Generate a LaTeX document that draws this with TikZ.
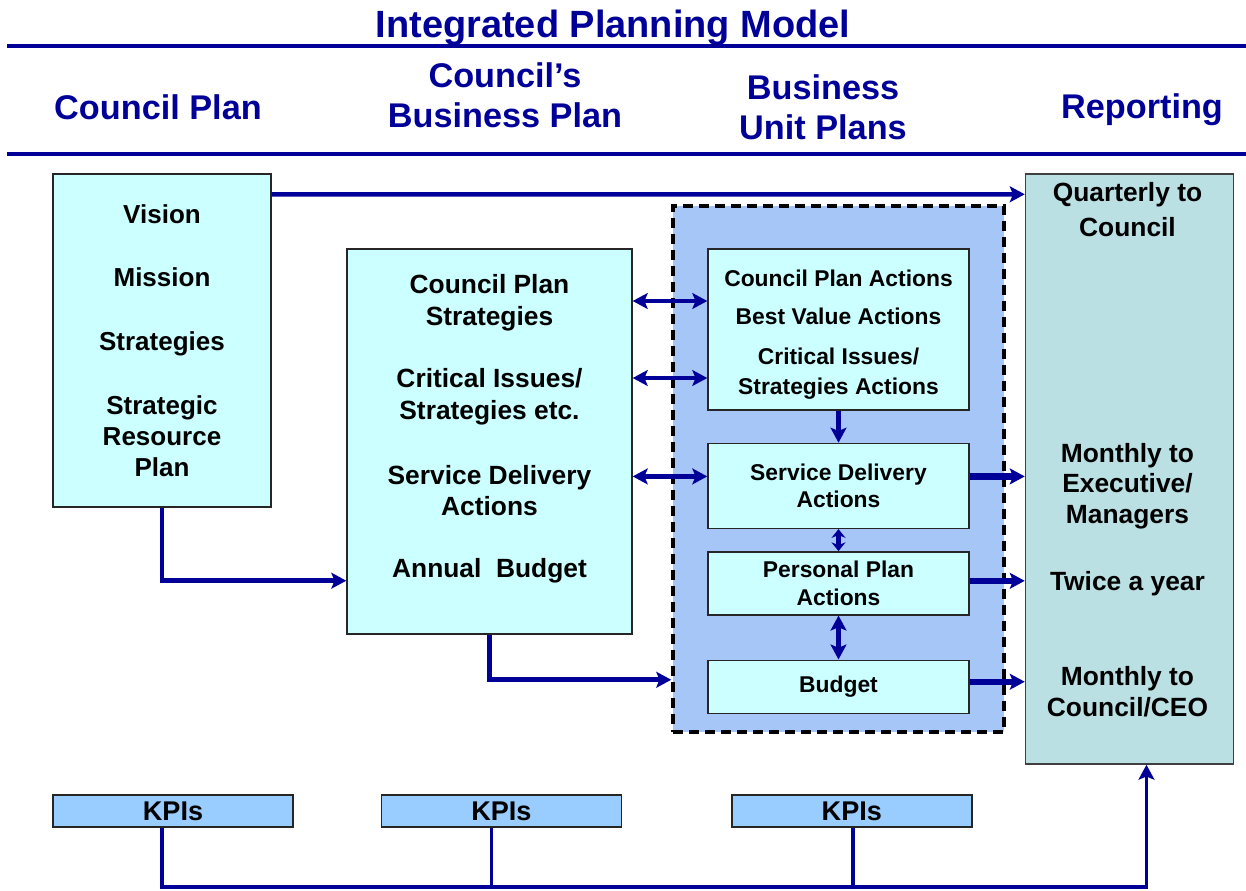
\documentclass[tikz,border=0pt]{standalone}
\usepackage{fontspec}
\setmainfont{Liberation Sans}
\usepackage{xcolor}
\usepackage{tikz}
\definecolor{navyblue}{RGB}{0,0,153}
\definecolor{paleaqua}{RGB}{204,255,255}
\definecolor{unitblue}{RGB}{166,198,248}
\definecolor{reportteal}{RGB}{187,224,227}
\definecolor{kpiblue}{RGB}{153,204,255}
\usetikzlibrary{arrows.meta,positioning,calc}

\begin{document}
\begin{tikzpicture}[
    titletext/.style={font=\fontsize{21.6}{24}\selectfont\bfseries, text=navyblue, inner sep=0pt},
    heading/.style={font=\fontsize{19.5}{22.7}\selectfont\bfseries, text=navyblue, align=center, inner sep=0pt},
    planbox/.style={rectangle, draw=black!85, line width=0.8pt, fill=paleaqua, align=center, inner sep=0pt, font=\fontsize{14.8}{17.6}\selectfont\bfseries},
    boxtext/.style={align=center, inner sep=0pt, font=\fontsize{15}{18.1}\selectfont\bfseries},
    unitframe/.style={rectangle, draw=black, line width=2pt, dash pattern=on 0.2cm off 0.12cm, fill=unitblue},
    unitbox/.style={rectangle, draw=black!85, line width=0.8pt, fill=paleaqua, align=center, minimum width=5.22cm, inner sep=0pt, font=\fontsize{13}{15.4}\selectfont\bfseries},
    reportbox/.style={rectangle, draw=black!75, line width=0.8pt, fill=reportteal},
    reptext/.style={align=center, inner sep=0pt, font=\fontsize{15}{17.3}\selectfont\bfseries},
    kpibox/.style={rectangle, draw=black!85, line width=0.8pt, fill=kpiblue, minimum width=4.8cm, minimum height=0.64cm, inner sep=0pt, font=\fontsize{15.4}{18}\selectfont\bfseries},
    hrule/.style={navyblue, line width=2.6pt},
    arrow/.style={-{Stealth[length=8.5pt,width=9pt,inset=1.8pt]}, navyblue, line width=2.6pt},
    dblarrow/.style={{Stealth[length=8.5pt,width=9pt,inset=1.8pt]}-{Stealth[length=8.5pt,width=9pt,inset=1.8pt]}, navyblue, line width=2.6pt},
    fatarrow/.style={arrow, line width=3.6pt},
    busline/.style={navyblue, line width=2pt}
]
\useasboundingbox (0,0) rectangle (24.92,-17.8);

% title and column headings
\node[titletext] (title) at (12.26,-0.56) {Integrated Planning Model};
\draw[hrule] (0.14,-0.92) -- (24.92,-0.92);
\draw[hrule] (0.14,-3.08) -- (24.92,-3.08);

\node[heading] (hcouncil) at (3.16,-2.14) {Council Plan};
\node[heading] (hbusiness) at (10.1,-1.9) {Council’s\\Business Plan};
\node[heading] (hunits) at (16.46,-2.14) {Business\\Unit Plans};
\node[heading] (hreport) at (22.84,-2.2) {Reporting};

% council plan and business plan
\node[planbox, minimum width=4.36cm, minimum height=6.66cm] (cplan) at (3.24,-6.81)
    {Vision\\[0.64cm]Mission\\[0.66cm]Strategies\\[0.66cm]Strategic\\Resource\\Plan};
\node[planbox, minimum width=5.7cm, minimum height=7.7cm] (bizplan) at (9.79,-8.83) {};
\node[boxtext] (biztext) at (9.79,-8.58)
    {Council Plan\\Strategies\\[0.6cm]Critical Issues/\\Strategies etc.\\[0.66cm]Service Delivery\\Actions\\[0.6cm]Annual~ Budget};

% business unit plans
\node[unitframe, minimum width=6.62cm, minimum height=10.52cm] (unit) at (16.77,-9.38) {};
\node[unitbox, minimum height=3.22cm] (cpa) at (16.77,-6.59) {};
\node[boxtext, font=\fontsize{13}{17}\selectfont\bfseries, yshift=-0.1cm] (cpatext) at (cpa)
    {Council Plan Actions\\[0.18cm]Best Value Actions\\[0.2cm]Critical Issues/\\Strategies Actions};
\node[unitbox, minimum height=1.7cm, below=0.64cm of cpa] (sda) {Service Delivery\\Actions};
\node[unitbox, minimum height=1.26cm, below=0.44cm of sda] (ppa) {Personal Plan\\Actions};
\node[unitbox, minimum height=1.06cm, below=0.88cm of ppa] (bud) {Budget};

% reporting
\node[reportbox, minimum width=4.16cm, minimum height=11.8cm, right=0.38cm of unit] (report) {};
\node[reptext, below=0.18cm of report.north, xshift=-0.04cm] (quarterly) {Quarterly to\\[0.08cm]Council};
\node[reptext, xshift=-0.04cm] (monthlyexec) at (report |- sda) {Monthly to\\Executive/\\Managers};
\node[reptext, xshift=-0.04cm] (twice) at (report |- ppa) {Twice a year};
\node[reptext, xshift=-0.04cm, yshift=-0.1cm] (monthlyceo) at (report |- bud) {Monthly to\\Council/CEO};

% KPIs
\node[kpibox] (kpi1) at (3.46,-16.22) {KPIs};
\node[kpibox, right=1.74cm of kpi1] (kpi2) {KPIs};
\node[kpibox, right=2.18cm of kpi2] (kpi3) {KPIs};

% connectors
\draw[arrow] ([yshift=-0.42cm]cplan.north east) -- ([yshift=-0.42cm]report.north west);
\draw[arrow] (cplan.south) |- ([yshift=1.08cm]bizplan.south west);
\draw[arrow] (bizplan.south) |- ([yshift=1.08cm]unit.south west);

\coordinate (link1) at ([yshift=0.57cm]cpa.west);
\coordinate (link2) at ([yshift=-0.97cm]cpa.west);
\coordinate (link3) at ([yshift=0.19cm]sda.west);
\foreach \c in {link1,link2,link3}
    \draw[dblarrow] (bizplan.east |- \c) -- (\c);

\draw[arrow] (cpa.south) -- (sda.north);
\draw[dblarrow, {Stealth[length=5pt,width=8pt]}-{Stealth[length=5pt,width=8pt]}] (sda.south) -- (ppa.north);
\draw[dblarrow] (ppa.south) -- (bud.north);

\coordinate (out1) at ([yshift=0.19cm]sda.east);
\coordinate (out2) at ([yshift=0.05cm]ppa.east);
\coordinate (out3) at ([yshift=0.1cm]bud.east);
\foreach \c in {out1,out2,out3}
    \draw[fatarrow] (\c) -- (report.west |- \c);

\coordinate (kpibus) at (0,-17.74);
\coordinate (drop1) at ([xshift=-0.22cm]kpi1.south);
\coordinate (drop2) at ([xshift=-0.2cm]kpi2.south);
\coordinate (drop3) at ([xshift=0.02cm]kpi3.south);
\coordinate (kpiin) at ([xshift=0.34cm]report.south);
\draw[arrow, line width=2pt] (drop1) |- (kpibus -| kpiin) -- (kpiin);
\draw[busline] (drop2) -- (drop2 |- kpibus);
\draw[busline] (drop3) -- (drop3 |- kpibus);

\end{tikzpicture}
\end{document}
